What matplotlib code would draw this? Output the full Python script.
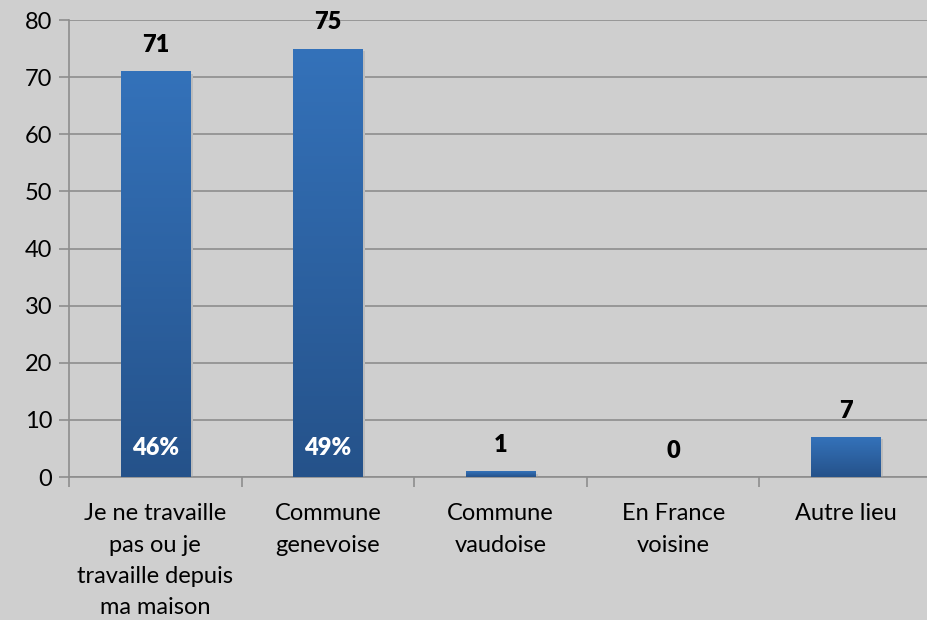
import numpy as np
import matplotlib.pyplot as plt
from matplotlib.colors import LinearSegmentedColormap

categories = ['Je ne travaille\npas ou je\ntravaille depuis\nma maison',
              'Commune\ngenevoise', 'Commune\nvaudoise', 'En France\nvoisine', 'Autre lieu']
counts = [71, 75, 1, 0, 7]
percents = ['46%', '49%', '', '', '']

plt.rcParams['font.family'] = ['Lato', 'DejaVu Sans']

bg = '#cfcfcf'
fig = plt.figure(figsize=(9.28, 6.2), dpi=100, facecolor=bg)
ax = fig.add_axes([0.0744, 0.2306, 0.93, 0.7371], facecolor=bg)

x = np.arange(len(categories))
bars = ax.bar(x, counts, width=0.40, color='#2e63a5', zorder=3)

# vertical gradient on each bar, lighter on top
cmap = LinearSegmentedColormap.from_list('grad', ['#25528a', '#3472ba'])
grad = np.linspace(0, 1, 256).reshape(-1, 1)
for b in bars:
    h = b.get_height()
    if h <= 0:
        continue
    x0 = b.get_x()
    w = b.get_width()
    # soft shadow
    ax.bar(x0 + w / 2 + 0.008, h, width=w + 0.016, bottom=-0.4, color='#bcbcbc', zorder=2)
    im = ax.imshow(grad, cmap=cmap, origin='lower', aspect='auto',
                   extent=[x0, x0 + w, 0, h], zorder=4)
    im.set_clip_path(b)
    b.set_alpha(0)

for i, v in enumerate(counts):
    ax.text(i, v + 4.6, str(v), ha='center', va='center', fontsize=17,
            fontweight='heavy', color='black', zorder=6)
    if percents[i]:
        ax.text(i, 5.1, percents[i], ha='center', va='center', fontsize=17,
                fontweight='heavy', color='white', zorder=6)

ax.set_xlim(-0.5, len(categories) - 0.5)
ax.set_ylim(0, 80)
ax.set_yticks(range(0, 81, 10))
ax.yaxis.grid(True, color='#8e8e8e', linewidth=1.2, zorder=1)
ax.set_axisbelow(True)

ax.set_xticks(x)
ax.set_xticklabels(categories, fontsize=17, linespacing=1.6)
ax.set_xticks(np.arange(-0.5, len(categories), 1), minor=True)
ax.tick_params(axis='x', which='major', length=0, pad=19)
ax.tick_params(axis='x', which='minor', length=7, color='#8e8e8e', width=1.2)
ax.tick_params(axis='y', labelsize=17, length=7, color='#8e8e8e', width=1.2, pad=5)
for t in ax.get_yticklabels():
    t.set_color('black')

for s in ['top', 'right']:
    ax.spines[s].set_visible(False)
for s in ['left', 'bottom']:
    ax.spines[s].set_color('#8e8e8e')
    ax.spines[s].set_linewidth(1.2)

fig.savefig('out.png', dpi=100, facecolor=bg)
